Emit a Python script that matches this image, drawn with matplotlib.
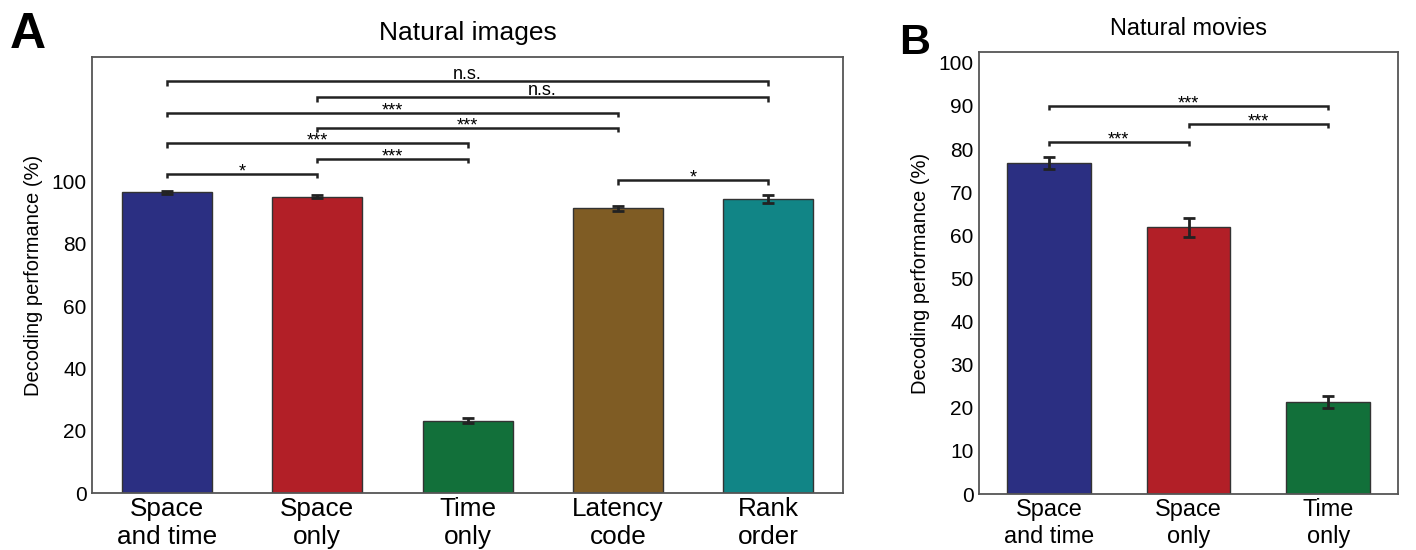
import matplotlib.pyplot as plt
import numpy as np

plt.rcParams['font.family'] = ['Liberation Sans', 'DejaVu Sans']

# panel A: natural images
img_labels = ["Space\nand time", "Space\nonly", "Time\nonly", "Latency\ncode", "Rank\norder"]
img_vals = [96.6, 95.2, 23.2, 91.4, 94.4]
img_err = [0.5, 0.5, 0.8, 0.7, 1.4]
img_colors = ["#2b2f82", "#b21f27", "#12703a", "#7f5c24", "#118586"]
# (bar i, bar j, height, label)
img_sig = [(0, 1, 102.6, "*"), (1, 2, 107.4, "***"), (0, 2, 112.3, "***"),
           (1, 3, 117.2, "***"), (0, 3, 122.1, "***"), (1, 4, 127.1, "n.s."),
           (0, 4, 132.2, "n.s."), (3, 4, 100.4, "*")]

# panel B: natural movies
mov_labels = ["Space\nand time", "Space\nonly", "Time\nonly"]
mov_vals = [76.7, 61.9, 21.3]
mov_err = [1.4, 2.2, 1.4]
mov_colors = ["#2b2f82", "#b21f27", "#12703a"]
mov_sig = [(0, 1, 81.7, "***"), (1, 2, 85.8, "***"), (0, 2, 90.0, "***")]

fig = plt.figure(figsize=(14.16, 5.5), dpi=100)
axA = fig.add_axes([0.065, 0.1036, 0.5304, 0.7927])
axB = fig.add_axes([0.6914, 0.1018, 0.2959, 0.8036])


def draw(ax, labels, vals, err, colors, sig, ylim, tick_h, xfs):
    x = np.arange(len(vals))
    ax.bar(x, vals, width=0.6, color=colors, edgecolor="#333333", linewidth=1.0, zorder=2)
    ax.errorbar(x, vals, yerr=err, fmt="none", ecolor="#222222", elinewidth=2,
                capsize=4.5, capthick=2, zorder=3)
    for i, j, h, txt in sig:
        ax.plot([i, i, j, j], [h - tick_h, h, h, h - tick_h], color="#222222", lw=1.8,
                solid_capstyle="butt", solid_joinstyle="miter", zorder=3)
        if txt == "n.s.":
            ax.annotate(txt, ((i + j) / 2, h), xytext=(0, 1.5), textcoords="offset points",
                        ha="center", va="baseline", fontsize=13)
        else:
            ax.annotate(txt, ((i + j) / 2, h), xytext=(0, -1.8), textcoords="offset points",
                        ha="center", va="baseline", fontsize=13)
    ax.set_xlim(-0.5, len(vals) - 0.5)
    ax.set_ylim(*ylim)
    ax.set_xticks(x)
    ax.set_xticklabels(labels, fontsize=xfs, linespacing=1.2)
    ax.tick_params(length=0, labelsize=15, pad=4)
    ax.tick_params(axis="x", labelsize=xfs, pad=3)
    for s in ax.spines.values():
        s.set_color("#555555")
        s.set_linewidth(1.3)


draw(axA, img_labels, img_vals, img_err, img_colors, img_sig, (0, 140), 1.4, 18.8)
axA.set_yticks([0, 20, 40, 60, 80, 100])
axA.set_ylabel("Decoding performance (%)", fontsize=14.5, labelpad=6)
axA.set_title("Natural images", fontsize=19, pad=12)

draw(axB, mov_labels, mov_vals, mov_err, mov_colors, mov_sig, (0, 102.5), 1.0, 16.9)
axB.set_yticks(np.arange(0, 101, 10))
axB.set_ylabel("Decoding performance (%)", fontsize=14.5, labelpad=6)
axB.set_title("Natural movies", fontsize=16.9, pad=12)

fig.text(0.007, 0.979, "A", fontsize=36, fontweight="bold", va="top", ha="left")
fig.text(0.635, 0.958, "B", fontsize=31, fontweight="bold", va="top", ha="left")

fig.savefig("out.png", dpi=100)
